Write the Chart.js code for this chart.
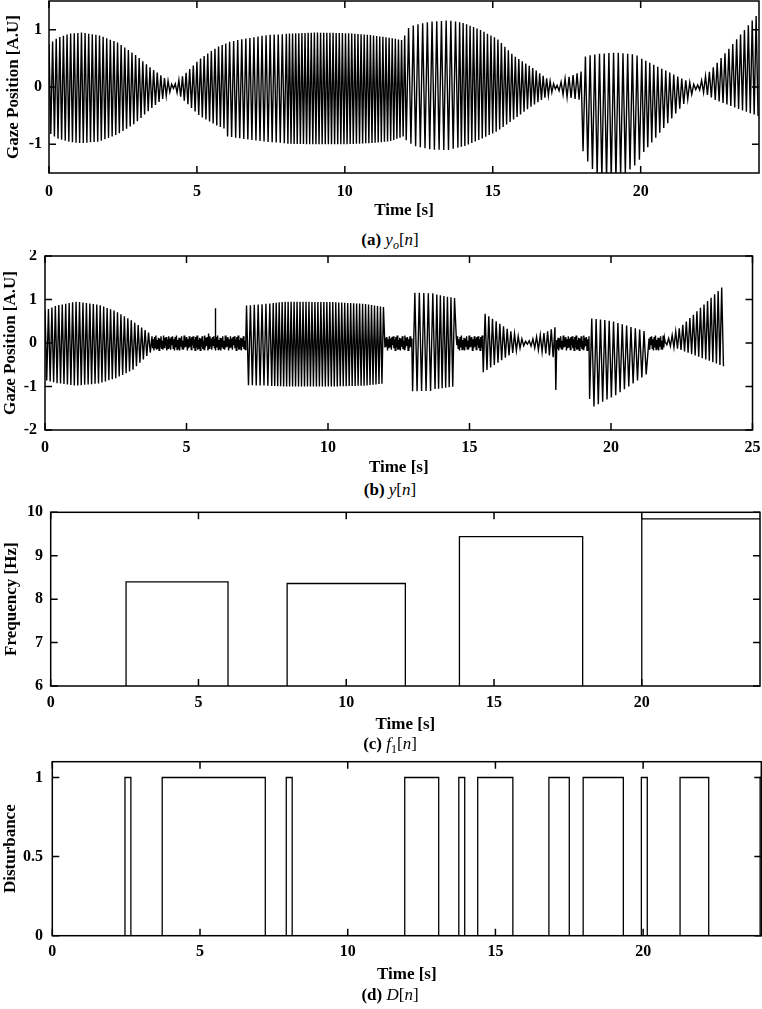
<!DOCTYPE html>
<html>
<head>
<meta charset="utf-8">
<script src="https://cdn.jsdelivr.net/npm/chart.js@4.4.1/dist/chart.umd.min.js"></script>
<style>
  body { margin: 0; width: 762px; height: 1009px; background: #fff; position: relative; overflow: hidden; }
  .panel { position: absolute; left: 0; width: 762px; }
  .cap { position: absolute; left: 0; width: 780px; text-align: center; font-family: 'Liberation Serif', serif; font-size: 17px; line-height: 18px; color: #000; }
  .cap b { font-weight: bold; }
  .cap sub { font-size: 12px; }
</style>
</head>
<body>
<div class="panel" style="top:0;height:222px"><canvas id="chartA"></canvas></div>
<div class="cap" style="top:231px"><b>(a)</b> <i>y<sub>o</sub></i>[<i>n</i>]</div>
<div class="panel" style="top:250px;height:230px"><canvas id="chartB"></canvas></div>
<div class="cap" style="top:481px"><b>(b)</b> <i>y</i>[<i>n</i>]</div>
<div class="panel" style="top:500px;height:235px"><canvas id="chartC"></canvas></div>
<div class="cap" style="top:735px"><b>(c)</b> <i>f</i><sub>1</sub>[<i>n</i>]</div>
<div class="panel" style="top:750px;height:235px"><canvas id="chartD"></canvas></div>
<div class="cap" style="top:986px"><b>(d)</b> <i>D</i>[<i>n</i>]</div>
<script>
// (a) y_o[n]: oscillation segments (start, end, cycles per second) and read-off envelope
const aSegStart = [0, 6.0, 8.0, 12.05, 13.8, 17.15, 18.0, 20.0, 21.9];
const aSegEnd = [6.0, 8.0, 12.05, 13.8, 17.15, 18.0, 20.0, 21.9, 24.0];
const aSegFreq = [8.2, 7.3, 9.5, 6.3, 8.5, 7.4, 6.3, 7.4, 7.6];
const aEnvT = [0, 0.3, 0.7, 1.1, 1.7, 2.3, 2.9, 3.4, 4.0, 4.2, 4.5, 5.1, 5.7, 5.99, 6.0, 6.5, 7.4, 7.99, 8.0, 9.0,
  10.0, 10.8, 11.5, 12.0, 12.05, 12.35, 12.9, 13.5, 13.8, 14.05, 14.6, 15.15, 15.7, 16.3, 16.9, 17.15, 17.45, 17.99, 18.0, 18.25,
  18.6, 19.2, 19.75, 19.99, 20.0, 21.9, 22.5, 23.0, 23.5, 24.0];
const aEnvTop = [0.75, 0.86, 0.93, 0.95, 0.90, 0.78, 0.57, 0.35, 0.12, 0.02, 0.18, 0.49, 0.70, 0.76, 0.78, 0.83, 0.91, 0.92, 0.93, 0.95,
  0.94, 0.91, 0.86, 0.81, 1.00, 1.08, 1.14, 1.16, 1.14, 1.11, 0.99, 0.84, 0.55, 0.35, 0.12, 0.02, 0.15, 0.27, 0.51, 0.55,
  0.58, 0.60, 0.57, 0.53, 0.50, 0.02, 0.37, 0.68, 0.99, 1.30];
const aEnvBot = [-0.80, -0.90, -0.96, -0.98, -0.95, -0.83, -0.64, -0.40, -0.14, -0.02, -0.20, -0.51, -0.68, -0.74, -0.86, -0.90, -0.96, -0.98, -0.99, -1.0,
  -1.0, -0.98, -0.95, -0.86, -0.92, -1.03, -1.09, -1.10, -1.06, -1.03, -0.91, -0.77, -0.57, -0.34, -0.14, -0.02, -0.17, -0.23, -1.06, -1.34,
  -1.60, -1.60, -1.40, -1.25, -1.20, -0.02, -0.22, -0.32, -0.42, -0.51];

// (b) y[n]: oscillation segments, noise fills the gaps
const bSegStart = [0, 7.1, 8.0, 12.97, 13.78, 15.47, 17.02, 19.23, 21.9];
const bSegEnd = [3.75, 8.0, 12.0, 13.75, 14.5, 17.02, 18.02, 21.3, 24.0];
const bSegFreq = [8.2, 7.3, 9.5, 6.3, 8.0, 7.7, 7.7, 6.5, 8.0];
const bEnvT = [0, 0.4, 1.1, 1.9, 2.5, 3.1, 3.75, 7.1, 7.8, 8.5, 10.2, 11.3, 12.0, 12.97, 13.75, 13.78, 14.5, 15.47, 17.02, 18.02,
  19.23, 19.4, 19.85, 20.1, 21.3, 21.9, 24.0];
const bEnvTop = [0.75, 0.86, 0.95, 0.88, 0.73, 0.50, 0.20, 0.86, 0.90, 0.95, 0.94, 0.90, 0.82, 1.16, 1.14, 1.12, 1.03, 0.71, 0.02, 0.36,
  0.57, 0.56, 0.52, 0.49, 0.25, 0.02, 1.33];
const bEnvBot = [-0.85, -0.92, -0.98, -0.93, -0.81, -0.62, -0.20, -0.97, -0.98, -1.0, -1.0, -0.98, -0.93, -1.11, -1.10, -1.06, -1.0, -0.68, -0.02, -0.35,
  -1.27, -1.46, -1.30, -1.23, -0.70, -0.02, -0.54];
const bNoiseLevel = 0.17;
const bNoiseFreq = 22;
const noiseShape = [0.9, -0.7, 0.5, -1.0, 0.8, -0.6, 1.0, -0.9, 0.4, -0.8, 0.7, -1.0, 0.6, -0.5, 0.9, -0.8,
  0.3, -0.9, 1.0, -0.6, 0.7, -0.4, 0.8, -1.0, 0.5, -0.7, 0.9, -0.5, 0.6, -0.9, 0.8, -0.3];
const bSpikeT = [5.78, 6.02, 18.05];
const bSpikeV = [0.22, 0.80, -1.08];

// (c) f1[n]: step values (Hz), 0 = no estimate
const cTimes = [0, 2.55, 6.0, 8.0, 12.0, 13.83, 18.0, 20.0, 24.0];
const cFreq = [0, 8.40, 0, 8.36, 0, 9.44, 0, 9.85, 9.85];

// (d) D[n]: disturbance flag
const dTimes = [0, 2.46, 2.66, 3.72, 7.21, 7.92, 8.12, 11.93, 13.08, 13.76, 13.96, 14.40, 15.59, 16.81, 17.50, 17.97, 19.33, 19.94, 20.14, 21.25, 22.22, 23.96, 24.0];
const dValues = [0, 1, 0, 1, 0, 1, 0, 1, 0, 1, 0, 1, 0, 1, 0, 1, 0, 1, 0, 1, 0, 1, 1];

// tick labels
const xTicksA = [0, 5, 10, 15, 20];
const yTicksA = [-1, 0, 1];
const xTicksB = [0, 5, 10, 15, 20, 25];
const yTicksB = [-2, -1, 0, 1, 2];
const xTicksC = [0, 5, 10, 15, 20];
const yTicksC = [6, 7, 8, 9, 10];
const xTicksD = [0, 5, 10, 15, 20];
const yTicksD = [0, 0.5, 1];

function envAt(ts, vs, t) {
  let i = 0;
  while (i < ts.length - 2 && ts[i + 1] <= t) i++;
  const f = Math.min(1, Math.max(0, (t - ts[i]) / (ts[i + 1] - ts[i])));
  return vs[i] + (vs[i + 1] - vs[i]) * f;
}

// one peak and one trough per cycle, heights taken from the envelope
function buildTrace(segStart, segEnd, segFreq, envT, envTop, envBot, tEnd, spikesT, spikesV) {
  const pts = [];
  let t = 0, k = 0, n = 0;
  while (t <= tEnd) {
    const s = segStart.findIndex((a, i) => t >= a && t < segEnd[i]);
    if (s < 0) {
      pts.push({ x: t, y: noiseShape[n % noiseShape.length] * bNoiseLevel });
      n++;
      t += 0.5 / bNoiseFreq;
    } else {
      pts.push({ x: t, y: k % 2 === 0 ? envAt(envT, envTop, t) : envAt(envT, envBot, t) });
      k++;
      t += 0.5 / segFreq[s];
    }
  }
  if (spikesT) {
    spikesT.forEach((st, i) => pts.push({ x: st, y: spikesV[i] }));
    pts.sort((p, q) => p.x - q.x);
  }
  return pts;
}

const tickFont = { family: "'Liberation Serif', serif", size: 16, weight: 'bold' };
const titleFont = { family: "'Liberation Serif', serif", size: 17, weight: 'bold' };

// closed box with inward ticks on all four sides
const boxTicks = {
  id: 'boxTicks',
  afterDatasetsDraw(chart) {
    const { ctx, chartArea: a, scales: { x, y } } = chart;
    const len = 7;
    ctx.save();
    ctx.strokeStyle = '#000';
    ctx.lineWidth = 1.5;
    ctx.strokeRect(a.left, a.top, a.right - a.left, a.bottom - a.top);
    ctx.beginPath();
    x.ticks.forEach(t => {
      const px = x.getPixelForValue(t.value);
      ctx.moveTo(px, a.bottom); ctx.lineTo(px, a.bottom - len);
      ctx.moveTo(px, a.top); ctx.lineTo(px, a.top + len);
    });
    y.ticks.forEach(t => {
      const py = y.getPixelForValue(t.value);
      ctx.moveTo(a.left, py); ctx.lineTo(a.left + len, py);
      ctx.moveTo(a.right, py); ctx.lineTo(a.right - len, py);
    });
    ctx.stroke();
    ctx.restore();
  }
};

function xAxis(max, ticks, height, pad, titlePad) {
  return {
    type: 'linear', min: 0, max: max,
    afterBuildTicks: s => { s.ticks = ticks.map(v => ({ value: v })); },
    afterFit: s => { s.height = height; s.paddingLeft = 0; s.paddingRight = 0; },
    grid: { display: false, drawTicks: false },
    border: { display: false },
    ticks: { font: tickFont, color: '#000', padding: pad, maxRotation: 0, autoSkip: false, callback: v => String(v) },
    title: { display: true, text: 'Time [s]', font: titleFont, color: '#000', padding: { top: 0, bottom: titlePad } }
  };
}

function yAxis(min, max, ticks, width, pad, label, titlePad) {
  return {
    min: min, max: max,
    afterBuildTicks: s => { s.ticks = ticks.map(v => ({ value: v })); },
    afterFit: s => { s.width = width; s.paddingTop = 0; s.paddingBottom = 0; },
    grid: { display: false, drawTicks: false },
    border: { display: false },
    ticks: { font: tickFont, color: '#000', padding: pad, autoSkip: false, callback: v => String(v) },
    title: { display: true, text: label, font: titleFont, color: '#000', padding: { top: titlePad, bottom: 0 } }
  };
}

function makeChart(id, data, lineWidth, stepped, padding, scales) {
  return new Chart(document.getElementById(id), {
    type: 'line',
    data: {
      datasets: [{
        data: data,
        borderColor: '#000',
        borderWidth: lineWidth,
        pointRadius: 0,
        tension: 0,
        fill: false,
        stepped: stepped
      }]
    },
    options: {
      responsive: true,
      maintainAspectRatio: false,
      animation: false,
      parsing: false,
      events: [],
      layout: { padding: padding },
      plugins: { legend: { display: false }, tooltip: { enabled: false } },
      scales: scales
    },
    plugins: [boxTicks]
  });
}

const traceA = buildTrace(aSegStart, aSegEnd, aSegFreq, aEnvT, aEnvTop, aEnvBot, 24.0);
const traceB = buildTrace(bSegStart, bSegEnd, bSegFreq, bEnvT, bEnvTop, bEnvBot, 24.0, bSpikeT, bSpikeV);
const stepC = cTimes.map((t, i) => ({ x: t, y: cFreq[i] }));
const stepD = dTimes.map((t, i) => ({ x: t, y: dValues[i] }));

makeChart('chartA', traceA, 1.4, false, { top: 1, right: 3, left: 0, bottom: 0 }, {
  x: xAxis(24, xTicksA, 49, 9.4, 0.8),
  y: yAxis(-1.5, 1.5, yTicksA, 49, 7, 'Gaze Position [A.U]', 3)
});
makeChart('chartB', traceB, 1.4, false, { top: 6, right: 9.5, left: 0, bottom: 0 }, {
  x: xAxis(25, xTicksB, 50, 8, 1.8),
  y: yAxis(-2, 2, yTicksB, 45, 8, 'Gaze Position [A.U]', 0)
});
makeChart('chartC', stepC, 1.3, true, { top: 12.3, right: 2, left: 0, bottom: 0 }, {
  x: xAxis(24, xTicksC, 49, 7, 0),
  y: yAxis(6, 10, yTicksC, 50.7, 7.7, 'Frequency [Hz]', 1.5)
});
makeChart('chartD', stepD, 1.3, true, { top: 11.7, right: 0.7, left: 0, bottom: 0 }, {
  x: xAxis(24, xTicksD, 49.3, 7, 0),
  y: yAxis(0, 1.1, yTicksD, 52.3, 9.3, 'Disturbance', 0)
});
</script>
</body>
</html>
